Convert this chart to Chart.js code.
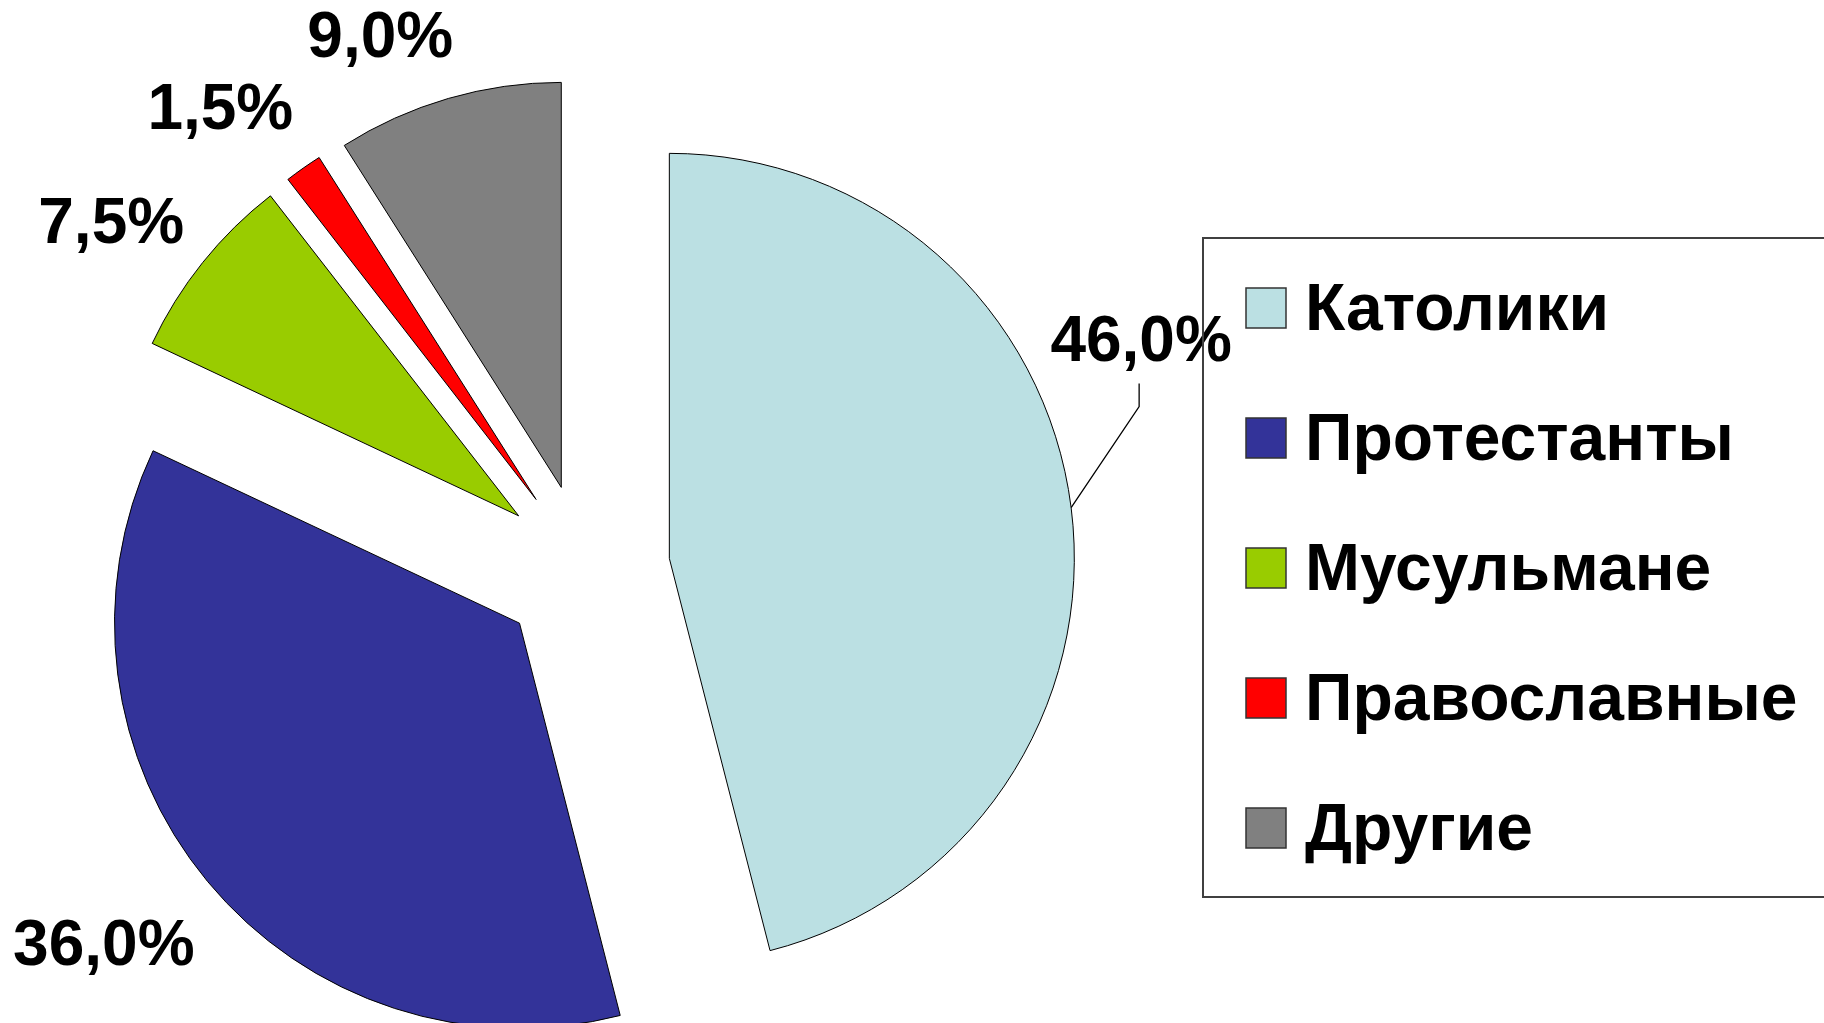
<!DOCTYPE html>
<html lang="ru">
<head>
<meta charset="UTF-8">
<title>Религиозный состав</title>
<script src="https://cdn.jsdelivr.net/npm/chart.js@4"></script>
<style>
  html, body { margin: 0; padding: 0; background: #fff; overflow: hidden; }
  #wrap { position: relative; width: 1824px; height: 1023px; }
</style>
</head>
<body>
<div id="wrap"><canvas id="chart" width="1824" height="1023"></canvas></div>
<script>
// data
const categories = ['Католики', 'Протестанты', 'Мусульмане', 'Православные', 'Другие'];
const shares = [46.0, 36.0, 7.5, 1.5, 9.0];
const colors = ['#BBE0E3', '#333399', '#99CC00', '#FF0000', '#808080'];

const LABEL_FONT = 'bold 64px "Liberation Sans", Arial, sans-serif';
const LEGEND_FONT = 'bold 66px "Liberation Sans", Arial, sans-serif';

// slices pulled out from the centre (chart.js offset also shrinks/grows the arcs, so do it by hand)
const explodePlugin = {
  id: 'explode',
  beforeDatasetDraw(chart, args, opts) {
    const ctx = chart.ctx;
    args.meta.data.forEach(arc => {
      const mid = (arc.startAngle + arc.endAngle) / 2;
      ctx.save();
      ctx.translate(Math.cos(mid) * opts.distance, Math.sin(mid) * opts.distance);
      arc.draw(ctx);
      ctx.restore();
    });
    return false;
  }
};

// percentage labels outside the slices
const labelPlugin = {
  id: 'pctLabels',
  afterDatasetsDraw(chart, args, opts) {
    const ctx = chart.ctx;
    const meta = chart.getDatasetMeta(0);
    const d = chart.options.plugins.explode.distance;
    const total = shares.reduce((a, b) => a + b, 0);
    const h = opts.capHeight;
    ctx.save();
    ctx.font = LABEL_FONT;
    ctx.fillStyle = '#000';
    ctx.strokeStyle = '#000';
    ctx.lineWidth = 1.3;
    ctx.textAlign = 'center';
    ctx.textBaseline = 'alphabetic';
    meta.data.forEach((arc, i) => {
      const mid = (arc.startAngle + arc.endAngle) / 2;
      const ux = Math.cos(mid), uy = Math.sin(mid);
      const ex = arc.x + ux * (d + arc.outerRadius);
      const ey = arc.y + uy * (d + arc.outerRadius);
      const text = (shares[i] / total * 100).toFixed(1).replace('.', ',') + '%';
      const w = ctx.measureText(text).width;
      const nudge = opts.nudge[i];
      let lx, ly;
      if (opts.leader[i]) {
        lx = ex + nudge[0];
        ly = ey + nudge[1];
        const bottom = ly + h / 2;
        ctx.beginPath();
        ctx.moveTo(ex, ey);
        ctx.lineTo(lx - 2, bottom + 46);
        ctx.lineTo(lx - 2, bottom + 23);
        ctx.stroke();
      } else {
        const ext = Math.abs(ux) * w / 2 + Math.abs(uy) * h / 2 + opts.gap;
        lx = ex + ux * ext + nudge[0];
        ly = ey + uy * ext + nudge[1];
      }
      ctx.fillText(text, lx, ly + h / 2);
    });
    ctx.restore();
  }
};

// boxed legend on the right
const legendPlugin = {
  id: 'boxLegend',
  afterDraw(chart, args, opts) {
    const ctx = chart.ctx;
    const ds = chart.data.datasets[0];
    ctx.save();
    ctx.strokeStyle = '#404040';
    ctx.lineWidth = 2;
    ctx.strokeRect(opts.left, opts.top, opts.width, opts.height);
    ctx.font = LEGEND_FONT;
    ctx.textAlign = 'left';
    ctx.textBaseline = 'alphabetic';
    chart.data.labels.forEach((lab, i) => {
      const cy = opts.firstRow + i * opts.rowStep;
      ctx.fillStyle = ds.backgroundColor[i];
      ctx.fillRect(opts.markerX, cy - opts.marker / 2, opts.marker, opts.marker);
      ctx.lineWidth = 1.5;
      ctx.strokeStyle = '#333';
      ctx.strokeRect(opts.markerX, cy - opts.marker / 2, opts.marker, opts.marker);
      ctx.fillStyle = '#000';
      ctx.fillText(lab, opts.textX, cy + 22);
    });
    ctx.restore();
  }
};

new Chart(document.getElementById('chart'), {
  type: 'pie',
  data: {
    labels: categories,
    datasets: [{
      data: shares,
      backgroundColor: colors,
      borderColor: '#000',
      borderWidth: 1,
      radius: 405,
      offset: 0,
      hoverOffset: 0
    }]
  },
  options: {
    responsive: false,
    animation: false,
    events: [],
    layout: { padding: { left: 0, right: 654, top: 115, bottom: 0 } },
    plugins: {
      legend: { display: false },
      tooltip: { enabled: false },
      explode: { distance: 85 },
      pctLabels: {
        capHeight: 46, gap: 33,
        leader: [true, false, false, false, false],
        nudge: [[70, -170], [-13, -14], [-10, 23], [-29, 15], [-47, 8]]
      },
      boxLegend: {
        left: 1203, top: 238, width: 640, height: 659,
        markerX: 1246, marker: 40, textX: 1305,
        firstRow: 308, rowStep: 130
      }
    }
  },
  plugins: [explodePlugin, labelPlugin, legendPlugin]
});
</script>
</body>
</html>
